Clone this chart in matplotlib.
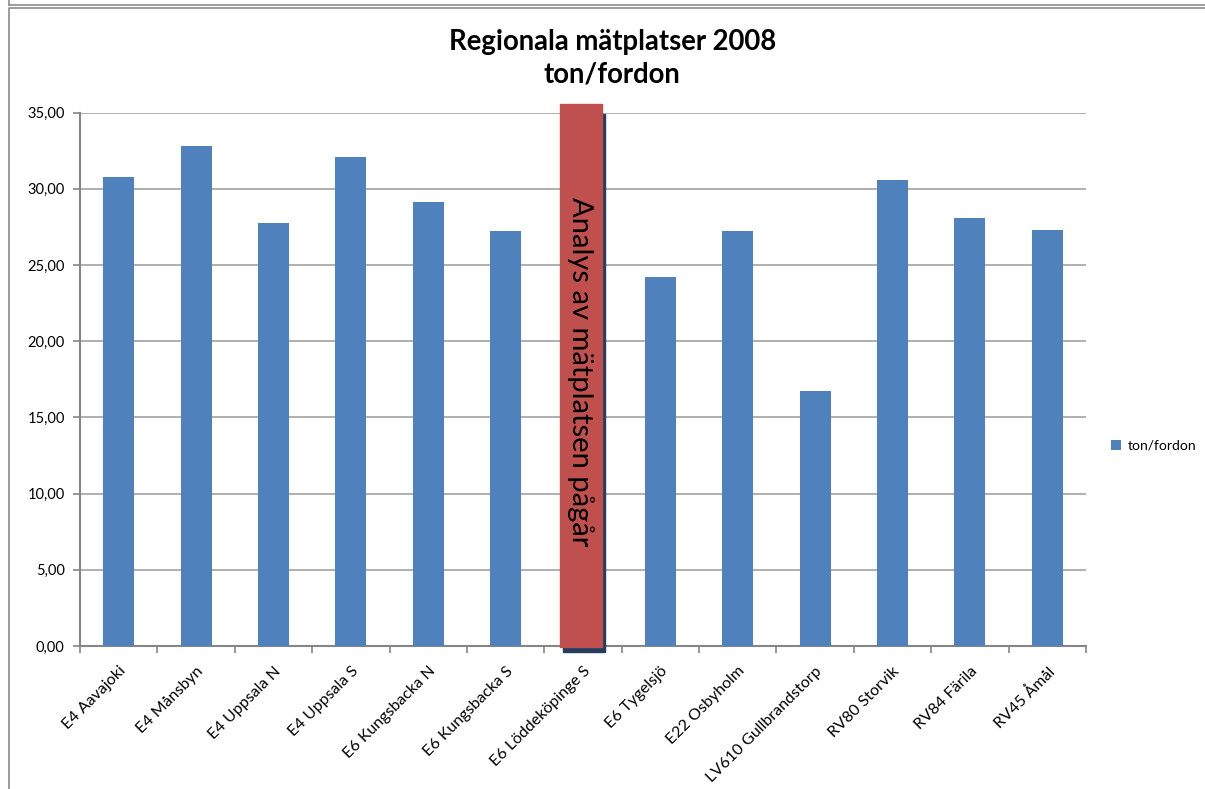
import numpy as np
import matplotlib.pyplot as plt
from matplotlib.patches import Rectangle
from matplotlib.ticker import FuncFormatter, MultipleLocator

plt.rcParams['font.family'] = ['Lato', 'DejaVu Sans']

platser = ['E4 Aavajoki', 'E4 Månsbyn', 'E4 Uppsala N', 'E4 Uppsala S',
           'E6 Kungsbacka N', 'E6 Kungsbacka S', 'E6 Löddeköpinge S',
           'E6 Tygelsjö', 'E22 Osbyholm', 'LV610 Gullbrandstorp',
           'RV80 Storvik', 'RV84 Färila', 'RV45 Åmål']
# Löddeköpinge saknar värde (analys pågår)
ton_per_fordon = [30.78, 32.82, 27.76, 32.08, 29.13, 27.2, np.nan,
                  24.22, 27.2, 16.75, 30.55, 28.08, 27.28]

blue = '#4F81BD'
red = '#C0504D'
grid = '#9A9A9A'

fig = plt.figure(figsize=(12.05, 7.89), dpi=100)

# chart frame like the spreadsheet object
frame = fig.add_axes([0, 0, 1, 1], zorder=-5)
frame.set_xlim(0, 1205)
frame.set_ylim(789, 0)
frame.axis('off')
frame.plot([9, 9, 1205], [789, 8, 8], color='#8C8C8C', lw=1.2)
frame.plot([9, 1205], [5, 5], color='#8C8C8C', lw=1.2)
frame.plot([9, 9], [0, 5], color='#8C8C8C', lw=1.2)

ax = fig.add_axes([80 / 1205, 143 / 789, 1006 / 1205, 533.5 / 789])
x = np.arange(len(platser))
ax.bar(x, ton_per_fordon, width=0.4, color=blue, label='ton/fordon', zorder=3)

ax.set_xlim(-0.5, len(platser) - 0.5)
ax.set_ylim(0, 35)
ax.yaxis.set_major_locator(MultipleLocator(5))
ax.yaxis.set_major_formatter(FuncFormatter(lambda v, p: f'{v:.2f}'.replace('.', ',')))
ax.grid(axis='y', color=grid, lw=1.1, zorder=0)

for s in ['top', 'right']:
    ax.spines[s].set_visible(False)
for s in ['left', 'bottom']:
    ax.spines[s].set_color('#868686')
    ax.spines[s].set_linewidth(1.5)

ax.set_xticks(x)
ax.set_xticklabels(platser, rotation=45, ha='right', rotation_mode='anchor', fontsize=11.5)
ax.set_xticks(np.arange(-0.5, len(platser)), minor=True)
ax.tick_params(axis='x', which='major', length=0, pad=13)
ax.tick_params(axis='x', which='minor', length=5, color='#868686', width=1.2)
ax.tick_params(axis='y', length=5, color='#868686', width=1.2, labelsize=10.5, pad=6)

# overlay box for the site under analysis
ax.add_patch(Rectangle((5.74, -0.42), 0.545, 35.3, color='#233E5F',
                       clip_on=False, zorder=5))
ax.add_patch(Rectangle((5.70, -0.07), 0.545, 35.66, color=red,
                       clip_on=False, zorder=6))
ax.text(5.965, 18.0, 'Analys av mätplatsen pågår', rotation=270,
        ha='center', va='center', fontsize=21, color='black', zorder=7)

fig.text(0.508, 1 - 42 / 789, 'Regionala mätplatser 2008', ha='center',
         va='center', fontsize=19.8, fontweight='bold')
fig.text(0.508, 1 - 75 / 789, 'ton/fordon', ha='center',
         va='center', fontsize=19.8, fontweight='bold')

fig.legend(loc='center left', bbox_to_anchor=(1104 / 1205, 1 - 446 / 789),
           frameon=False, fontsize=10, handlelength=0.7, handleheight=0.7,
           handletextpad=0.5, borderpad=0)

fig.savefig('out.png', dpi=100)
